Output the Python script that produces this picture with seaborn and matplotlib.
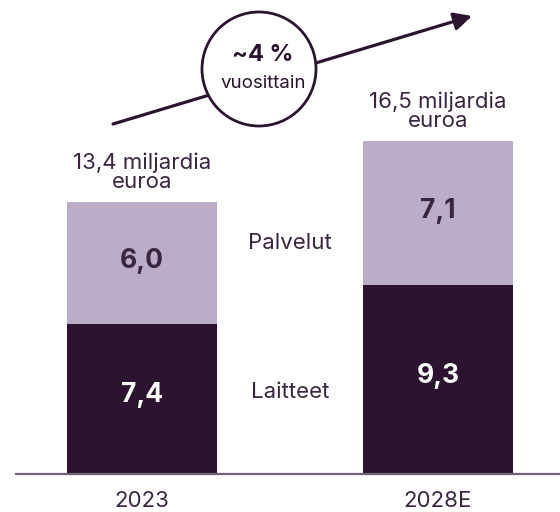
import matplotlib
matplotlib.use("Agg")
import matplotlib.pyplot as plt
import seaborn as sns
import pandas as pd
from matplotlib.patches import Ellipse

years = ["2023", "2028E"]
laitteet = [7.4, 9.3]
palvelut = [6.0, 7.1]
laitteet_labels = ["7,4", "9,3"]
palvelut_labels = ["6,0", "7,1"]
total_labels = ["13,4 miljardia\neuroa", "16,5 miljardia\neuroa"]
series_names = ["Palvelut", "Laitteet"]
growth_label = "~4 %"
growth_sub = "vuosittain"

DARK = "#2C1430"
LIGHT = "#BBACC8"
TEXT = "#3A2540"
AXIS = "#6F6275"

sns.set_theme(style="white")
plt.rcParams["font.family"] = ["Inter", "DejaVu Sans"]

W, H = 560, 512
fig = plt.figure(figsize=(W / 100, H / 100), dpi=100)
base_px = 474
ax = fig.add_axes([16 / W, 1 - base_px / H, 1 - 16 / W, base_px / H])

totals = [l + p for l, p in zip(laitteet, palvelut)]
df = pd.DataFrame({"year": years, "laitteet": laitteet, "total": totals})
bw = 150 / 296
sns.barplot(data=df, x="year", y="total", color=LIGHT, saturation=1, width=bw, ax=ax, linewidth=0)
sns.barplot(data=df, x="year", y="laitteet", color=DARK, saturation=1, width=bw, ax=ax, linewidth=0)

px_per_unit = 20.3
ax.set_ylim(0, base_px / px_per_unit)
ax.set_xlim(-126 / 296, (560 - 142) / 296)
for s in ["top", "right", "left"]:
    ax.spines[s].set_visible(False)
ax.spines["bottom"].set_color(AXIS)
ax.spines["bottom"].set_linewidth(1.6)
ax.set_xlabel("")
ax.set_ylabel("")
ax.set_yticks([])
ax.tick_params(axis="x", length=0, pad=12, labelsize=16, labelcolor=TEXT)
ax.set_xticks(range(len(years)))
ax.set_xticklabels(years)

for i in range(len(years)):
    ax.text(i, laitteet[i] / 2 + 0.2, laitteet_labels[i], ha="center", va="center",
            color="white", fontsize=19, fontweight="bold")
    ax.text(i, laitteet[i] + palvelut[i] / 2 + 0.1, palvelut_labels[i], ha="center", va="center",
            color=TEXT, fontsize=19, fontweight="bold")
    ax.text(i, totals[i] + 0.5, total_labels[i], ha="center", va="bottom",
            color=TEXT, fontsize=16, linespacing=0.95)

mid = 0.5
ax.text(mid, laitteet[0] + palvelut[0] / 2 + 1.0, series_names[0], ha="center", va="center",
        color=TEXT, fontsize=16)
ax.text(mid, laitteet[0] / 2 + 0.35, series_names[1], ha="center", va="center",
        color=TEXT, fontsize=16)

# growth arrow
ax.annotate("", xy=(472, H - 16), xytext=(113, H - 124),
            xycoords="figure pixels", textcoords="figure pixels",
            arrowprops=dict(arrowstyle="-|>,head_length=0.9,head_width=0.45",
                            color=DARK, lw=2.3, shrinkA=0, shrinkB=0),
            annotation_clip=False)
cx, cy, r = 259, 69, 57
circ = Ellipse((cx / W, 1 - cy / H), 2 * r / W, 2 * r / H, transform=fig.transFigure,
               facecolor="white", edgecolor=DARK, lw=2.0, zorder=5)
fig.patches.append(circ)
fig.text(263 / W, 1 - 55 / H, growth_label, ha="center", va="center",
         color=DARK, fontsize=17, fontweight="bold", zorder=6)
fig.text(263 / W, 1 - 84 / H, growth_sub, ha="center", va="center",
         color=DARK, fontsize=13.5, zorder=6)

fig.savefig("out.png", dpi=100)
